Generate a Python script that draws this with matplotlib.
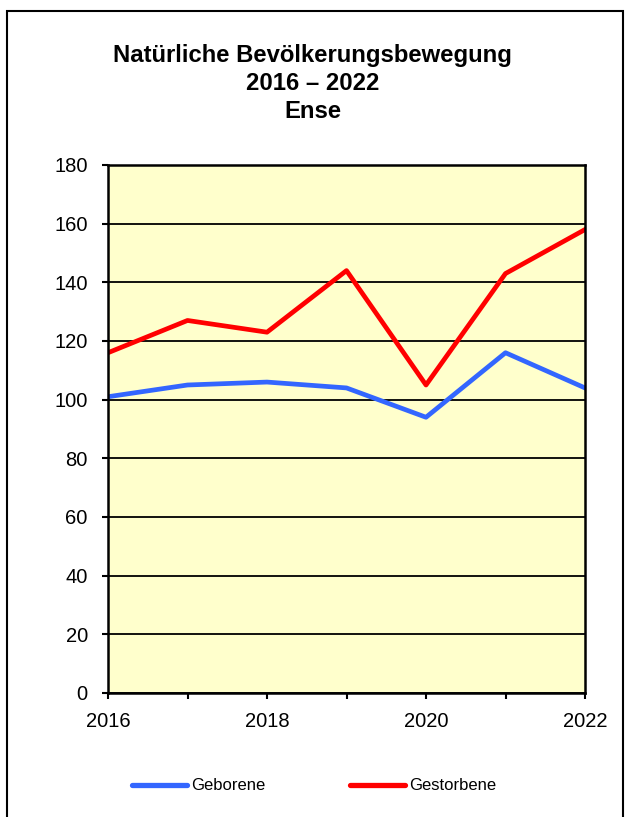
import matplotlib
matplotlib.use("Agg")
import matplotlib.pyplot as plt
from matplotlib.patches import Rectangle

plt.rcParams['font.family'] = ['Liberation Sans', 'DejaVu Sans']

years = [2016, 2017, 2018, 2019, 2020, 2021, 2022]
geborene = [101, 105, 106, 104, 94, 116, 104]
gestorbene = [116, 127, 123, 144, 105, 143, 158]

fig = plt.figure(figsize=(6.25, 8.17), dpi=100)
W, H = 625, 817

# outer frame (open at the bottom like the original crop)
fig.patches.append(Rectangle((7 / W, -0.01), (623 - 7) / W, 1.01 - 11 / H,
                             transform=fig.transFigure, fill=False,
                             edgecolor='black', linewidth=1.5))

ax = fig.add_axes([108 / W, (H - 693) / H, (585 - 108) / W, (693 - 165) / H])
ax.set_facecolor('#FFFFCC')

ax.plot(years, geborene, color='#3366FF', linewidth=3.4, label='Geborene')
ax.plot(years, gestorbene, color='#FF0000', linewidth=3.4, label='Gestorbene')

ax.set_xlim(2016, 2022)
ax.set_ylim(0, 180)
ax.set_yticks(range(0, 181, 20))
ax.set_xticks(years)
ax.set_xticklabels([str(y) if y % 2 == 0 else '' for y in years])
ax.grid(axis='y', color='black', linewidth=1.3)
ax.set_axisbelow(True)
for s in ax.spines.values():
    s.set_linewidth(1.8)
ax.tick_params(axis='both', direction='out', length=4.5, width=1.5,
               labelsize=14.5)
ax.tick_params(axis='y', pad=10)
ax.tick_params(axis='x', pad=9)

fig.text(0.5, (H - 83.5) / H, 'Natürliche Bevölkerungsbewegung\n2016 – 2022\nEnse',
         ha='center', va='center', fontsize=17.2, fontweight='bold',
         linespacing=1.3)

fig.legend(loc='center', bbox_to_anchor=(0.503, (H - 786) / H), ncol=2,
           frameon=False, fontsize=12, handlelength=3.3, columnspacing=5.1,
           handletextpad=0.25)
for ln in fig.legends[0].get_lines():
    ln.set_solid_capstyle('round')
    ln.set_linewidth(3.8)

fig.savefig('out.png', dpi=100)
